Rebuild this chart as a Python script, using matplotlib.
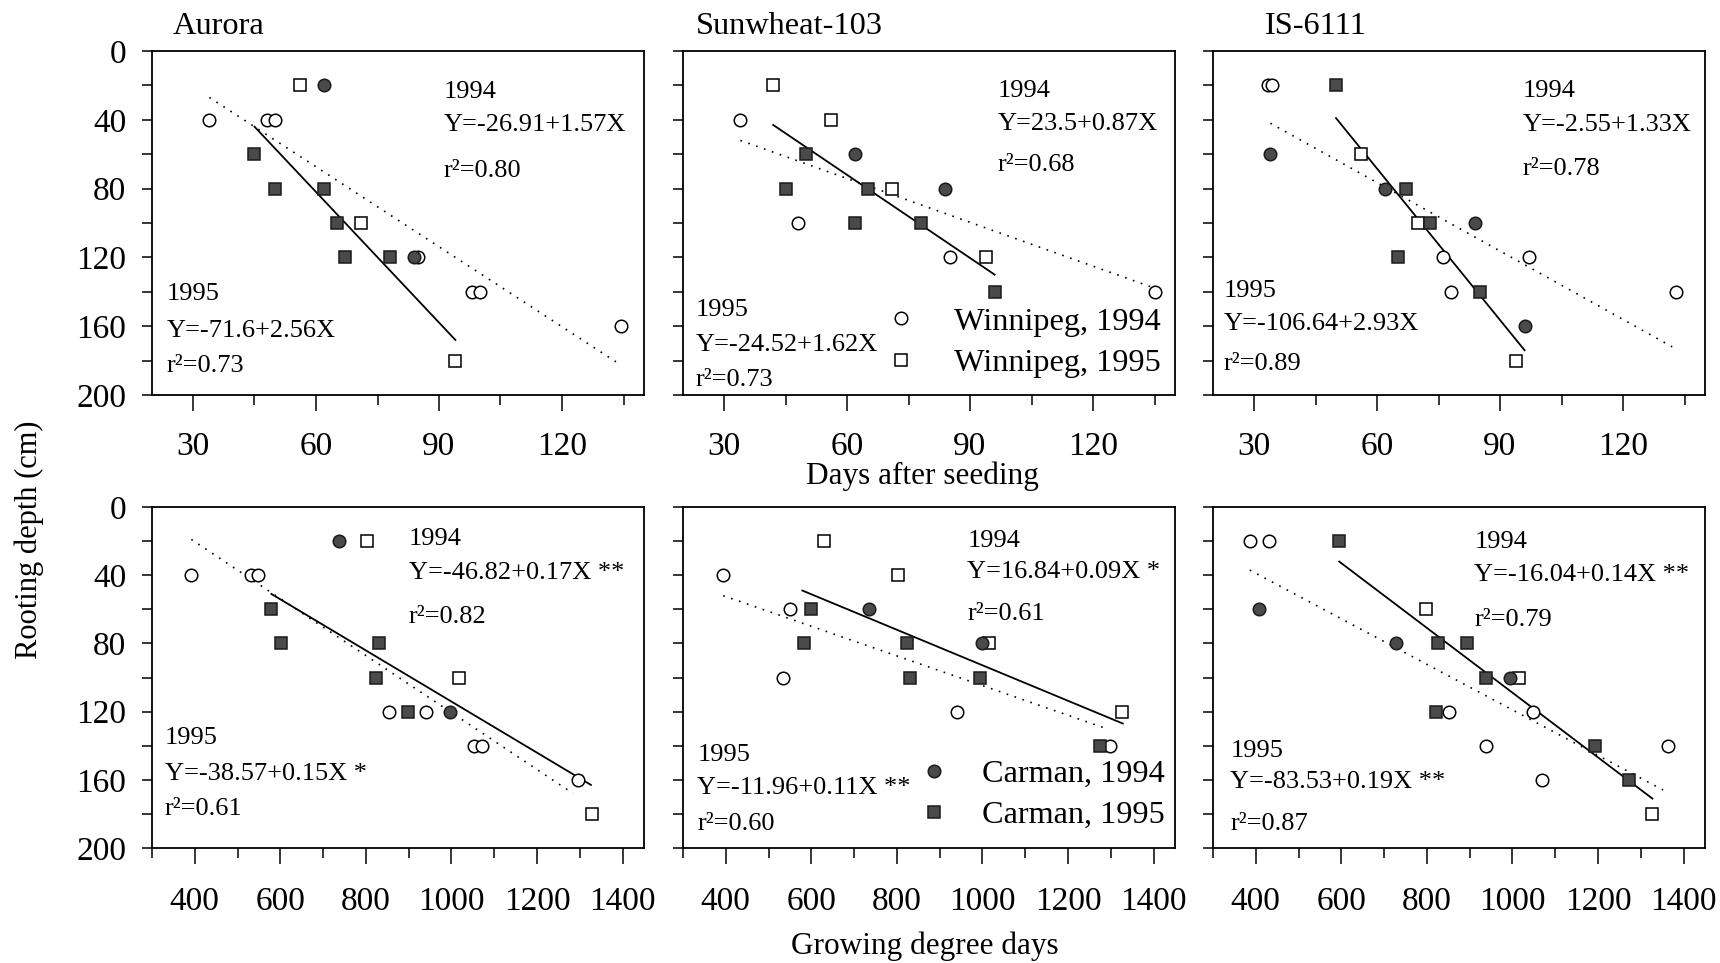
import matplotlib
matplotlib.use('Agg')
import matplotlib.pyplot as plt
from matplotlib.lines import Line2D
from matplotlib.ticker import MultipleLocator, FixedLocator

plt.rcParams['font.family'] = ['Liberation Serif', 'DejaVu Serif']

# ---- data: rooting depth (cm) ----
# top row: days after seeding
aur_d_w94_x = [34, 48, 50, 85, 98, 100, 134.5]
aur_d_w94_y = [40, 40, 40, 120, 140, 140, 160]
aur_d_w95_x = [56, 71, 94]
aur_d_w95_y = [20, 100, 180]
aur_d_c94_x = [62, 84]
aur_d_c94_y = [20, 120]
aur_d_c95_x = [45, 50, 62, 65, 67, 78]
aur_d_c95_y = [60, 80, 80, 100, 120, 120]
aur_d_fit94_x = [34, 134]
aur_d_fit94_y = [27, 182]
aur_d_fit95_x = [45, 94]
aur_d_fit95_y = [44, 168]

sun_d_w94_x = [34, 48, 85, 135]
sun_d_w94_y = [40, 100, 120, 140]
sun_d_w95_x = [42, 56, 71, 94]
sun_d_w95_y = [20, 40, 80, 120]
sun_d_c94_x = [62, 84]
sun_d_c94_y = [60, 80]
sun_d_c95_x = [50, 45, 65, 62, 78, 96]
sun_d_c95_y = [60, 80, 80, 100, 100, 140]
sun_d_fit94_x = [34, 134]
sun_d_fit94_y = [52, 137]
sun_d_fit95_x = [42, 96]
sun_d_fit95_y = [43, 130]

is_d_w94_x = [33.5, 34.5, 76, 97, 78, 133]
is_d_w94_y = [20, 20, 120, 120, 140, 140]
is_d_w95_x = [56, 70, 94]
is_d_w95_y = [60, 100, 180]
is_d_c94_x = [34, 62, 84, 96]
is_d_c94_y = [60, 80, 100, 160]
is_d_c95_x = [50, 67, 73, 65, 85]
is_d_c95_y = [20, 80, 100, 120, 140]
is_d_fit94_x = [34, 132]
is_d_fit94_y = [42, 172]
is_d_fit95_x = [50, 96]
is_d_fit95_y = [39, 174]

# bottom row: growing degree days
aur_g_w94_x = [392, 532, 547, 855, 940, 1052, 1071, 1296]
aur_g_w94_y = [40, 40, 40, 120, 120, 140, 140, 160]
aur_g_w95_x = [802, 1018, 1329]
aur_g_w95_y = [20, 100, 180]
aur_g_c94_x = [736, 997]
aur_g_c94_y = [20, 120]
aur_g_c95_x = [579, 601, 830, 823, 898]
aur_g_c95_y = [60, 80, 80, 100, 120]
aur_g_fit94_x = [392, 1284]
aur_g_fit94_y = [19, 168]
aur_g_fit95_x = [579, 1326]
aur_g_fit95_y = [51, 163]

sun_g_w94_x = [394, 550, 533, 940, 1297]
sun_g_w94_y = [40, 60, 100, 120, 140]
sun_g_w95_x = [629, 802, 1015, 1327]
sun_g_w95_y = [20, 40, 80, 120]
sun_g_c94_x = [735, 998]
sun_g_c94_y = [60, 80]
sun_g_c95_x = [600, 582, 823, 830, 994, 1275]
sun_g_c95_y = [60, 80, 80, 100, 100, 140]
sun_g_fit94_x = [394, 1290]
sun_g_fit94_y = [52, 130]
sun_g_fit95_x = [579, 1328]
sun_g_fit95_y = [49, 127]

is_g_w94_x = [386, 432, 852, 1048, 938, 1364, 1068]
is_g_w94_y = [20, 20, 120, 120, 140, 140, 160]
is_g_w95_x = [798, 1015, 1327]
is_g_w95_y = [60, 100, 180]
is_g_c94_x = [408, 728, 994]
is_g_c94_y = [60, 80, 100]
is_g_c95_x = [594, 826, 894, 938, 821, 1193, 1273]
is_g_c95_y = [20, 80, 80, 100, 120, 140, 160]
is_g_fit94_x = [386, 1352]
is_g_fit94_y = [37, 166]
is_g_fit95_x = [595, 1327]
is_g_fit95_y = [32, 171]

cultivars = ['Aurora', 'Sunwheat-103', 'IS-6111']

eq_days = [
    ('Y=-26.91+1.57X', 'r²=0.80', 'Y=-71.6+2.56X', 'r²=0.73'),
    ('Y=23.5+0.87X', 'r²=0.68', 'Y=-24.52+1.62X', 'r²=0.73'),
    ('Y=-2.55+1.33X', 'r²=0.78', 'Y=-106.64+2.93X', 'r²=0.89'),
]
eq_gdd = [
    ('Y=-46.82+0.17X **', 'r²=0.82', 'Y=-38.57+0.15X *', 'r²=0.61'),
    ('Y=16.84+0.09X *', 'r²=0.61', 'Y=-11.96+0.11X **', 'r²=0.60'),
    ('Y=-16.04+0.14X **', 'r²=0.79', 'Y=-83.53+0.19X **', 'r²=0.87'),
]

days_panels = [
    (aur_d_w94_x, aur_d_w94_y, aur_d_w95_x, aur_d_w95_y, aur_d_c94_x, aur_d_c94_y,
     aur_d_c95_x, aur_d_c95_y, aur_d_fit94_x, aur_d_fit94_y, aur_d_fit95_x, aur_d_fit95_y),
    (sun_d_w94_x, sun_d_w94_y, sun_d_w95_x, sun_d_w95_y, sun_d_c94_x, sun_d_c94_y,
     sun_d_c95_x, sun_d_c95_y, sun_d_fit94_x, sun_d_fit94_y, sun_d_fit95_x, sun_d_fit95_y),
    (is_d_w94_x, is_d_w94_y, is_d_w95_x, is_d_w95_y, is_d_c94_x, is_d_c94_y,
     is_d_c95_x, is_d_c95_y, is_d_fit94_x, is_d_fit94_y, is_d_fit95_x, is_d_fit95_y),
]
gdd_panels = [
    (aur_g_w94_x, aur_g_w94_y, aur_g_w95_x, aur_g_w95_y, aur_g_c94_x, aur_g_c94_y,
     aur_g_c95_x, aur_g_c95_y, aur_g_fit94_x, aur_g_fit94_y, aur_g_fit95_x, aur_g_fit95_y),
    (sun_g_w94_x, sun_g_w94_y, sun_g_w95_x, sun_g_w95_y, sun_g_c94_x, sun_g_c94_y,
     sun_g_c95_x, sun_g_c95_y, sun_g_fit94_x, sun_g_fit94_y, sun_g_fit95_x, sun_g_fit95_y),
    (is_g_w94_x, is_g_w94_y, is_g_w95_x, is_g_w95_y, is_g_c94_x, is_g_c94_y,
     is_g_c95_x, is_g_c95_y, is_g_fit94_x, is_g_fit94_y, is_g_fit95_x, is_g_fit95_y),
]

# ---- styles ----
GRAY = '#4a4a4a'
open_circ = dict(marker='o', ms=9, mfc='white', mec='black', mew=1.1, ls='none')
open_sq = dict(marker='s', ms=8, mfc='white', mec='black', mew=1.1, ls='none')
fill_circ = dict(marker='o', ms=9, mfc=GRAY, mec='#1a1a1a', mew=1.1, ls='none')
fill_sq = dict(marker='s', ms=8, mfc=GRAY, mec='#1a1a1a', mew=1.1, ls='none')

W, H = 1720, 963
fig = plt.figure(figsize=(W / 100, H / 100), dpi=100)

col_left = [152, 683, 1213]
col_w = 492
row_top = [51, 507]
row_h = [344, 341]

FS_TICK = 24


def make_ax(r, c):
    return fig.add_axes([col_left[c] / W, 1 - (row_top[r] + row_h[r]) / H,
                         col_w / W, row_h[r] / H])


def style_ax(ax, r, c):
    ax.set_ylim(200, 0)
    ax.yaxis.set_major_locator(MultipleLocator(40))
    ax.yaxis.set_minor_locator(FixedLocator([20, 60, 100, 140, 180]))
    if r == 0:
        ax.set_xlim(20, 140)
        ax.xaxis.set_major_locator(FixedLocator([30, 60, 90, 120]))
        ax.xaxis.set_minor_locator(FixedLocator([45, 75, 105, 135]))
        xpad = 14.5
    else:
        ax.set_xlim(300, 1450)
        ax.xaxis.set_major_locator(FixedLocator([400, 600, 800, 1000, 1200, 1400]))
        ax.xaxis.set_minor_locator(FixedLocator([300, 500, 700, 900, 1100, 1300]))
        xpad = 16.5
    ax.tick_params(axis='y', which='both', direction='out', length=7.5, width=1.1,
                   labelsize=FS_TICK, pad=11, labelleft=(c == 0))
    ax.tick_params(axis='x', which='major', direction='out', length=11.5, width=1.1,
                   labelsize=FS_TICK, pad=xpad)
    ax.tick_params(axis='x', which='minor', direction='out', length=7.5, width=1.1)
    for s in ax.spines.values():
        s.set_linewidth(1.3)


def draw_panel(ax, d):
    (w94x, w94y, w95x, w95y, c94x, c94y, c95x, c95y, f94x, f94y, f95x, f95y) = d
    ax.plot(f94x, f94y, color='black', lw=1.2, ls=(0, (1, 4)), zorder=2)
    ax.plot(f95x, f95y, color='black', lw=1.3, ls='-', zorder=2)
    ax.plot(w94x, w94y, zorder=3, **open_circ)
    ax.plot(w95x, w95y, zorder=3, **open_sq)
    ax.plot(c94x, c94y, zorder=4, **fill_circ)
    ax.plot(c95x, c95y, zorder=4, **fill_sq)


# annotation positions (axes fraction): x94, y94 lines, x95, y95 lines
pos_top = [
    (0.593, (0.880, 0.784, 0.650), 0.029, (0.294, 0.187, 0.085)),
    (0.639, (0.884, 0.788, 0.668), 0.025, (0.248, 0.146, 0.044)),
    (0.630, (0.884, 0.784, 0.658), 0.022, (0.303, 0.206, 0.089)),
]
pos_bot = [
    (0.522, (0.905, 0.805, 0.676), 0.026, (0.322, 0.217, 0.113)),
    (0.578, (0.900, 0.809, 0.687), 0.029, (0.274, 0.175, 0.071)),
    (0.531, (0.897, 0.800, 0.668), 0.035, (0.285, 0.193, 0.070)),
]
title_x = [0.041, 0.026, 0.106]

FS_ANN = 19
for r, (panels, eqs, poss) in enumerate([(days_panels, eq_days, pos_top),
                                         (gdd_panels, eq_gdd, pos_bot)]):
    for c in range(3):
        ax = make_ax(r, c)
        style_ax(ax, r, c)
        draw_panel(ax, panels[c])
        eq94, r94, eq95, r95 = eqs[c]
        x94, ys94, x95, ys95 = poss[c]
        for txt, yy in zip(['1994', eq94, r94], ys94):
            ax.text(x94, yy, txt, transform=ax.transAxes, fontsize=FS_ANN,
                    ha='left', va='center')
        for txt, yy in zip(['1995', eq95, r95], ys95):
            ax.text(x95, yy, txt, transform=ax.transAxes, fontsize=FS_ANN,
                    ha='left', va='center')
        if r == 0:
            ax.text(title_x[c], 1.07, cultivars[c], transform=ax.transAxes,
                    fontsize=23.3, ha='left', va='center')
        if c == 1:
            if r == 0:
                hs = [Line2D([], [], **open_circ), Line2D([], [], **open_sq)]
                labs = ['Winnipeg, 1994', 'Winnipeg, 1995']
                anchor = (0.972, 0.05)
                tpad = 1.15
            else:
                hs = [Line2D([], [], **fill_circ), Line2D([], [], **fill_sq)]
                labs = ['Carman, 1994', 'Carman, 1995']
                anchor = (0.98, 0.052)
                tpad = 1.0
            ax.legend(hs, labs, loc='lower right', bbox_to_anchor=anchor,
                      frameon=False, fontsize=23.2, handlelength=1.0,
                      handletextpad=tpad, labelspacing=0.36, borderpad=0,
                      borderaxespad=0)

fig.text(29 / W, 1 - 540 / H, 'Rooting depth (cm)', rotation=90, fontsize=22,
         ha='center', va='center')
fig.text(922 / W, 1 - 476 / H, 'Days after seeding', fontsize=22.5,
         ha='center', va='center')
fig.text(925 / W, 1 - 946 / H, 'Growing degree days', fontsize=22.5,
         ha='center', va='center')

fig.savefig('out.png', dpi=100)
